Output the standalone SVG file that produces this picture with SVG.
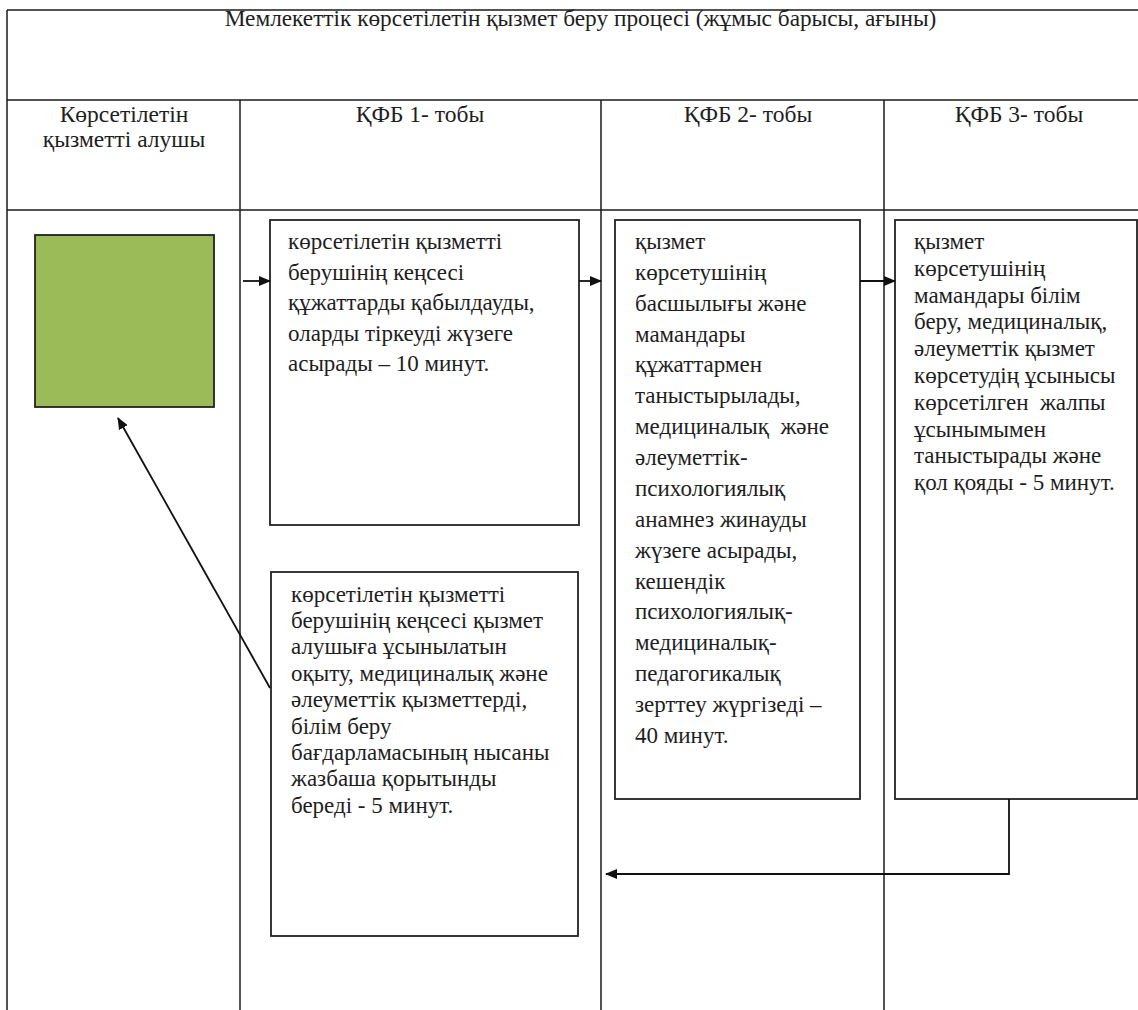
<svg xmlns="http://www.w3.org/2000/svg" width="1138" height="1010" viewBox="0 0 1138 1010">
<style>
.grid{stroke:#1a1a1a;stroke-width:1.5;fill:none}
.box{fill:#fff;stroke:#222;stroke-width:1.8}
.green{fill:#9BBB59;stroke:#222;stroke-width:1.8}
.t{font-family:"Liberation Serif","Times New Roman",serif;fill:#1e1e1e}
.title{font-size:23.3px}
.hdr{font-size:23.5px}
.bt{font-size:23px}
.con{stroke:#111;stroke-width:1.8;fill:none;marker-end:url(#ah)}
</style>
<defs>
<marker id="ah" markerWidth="12" markerHeight="10" refX="11" refY="5" orient="auto" markerUnits="userSpaceOnUse">
<path d="M0,0 L12,5 L0,10 Z" fill="#111"/>
</marker>
</defs>
<rect width="1138" height="1010" fill="#fff"/>
<g id="frame">
<line class="grid" x1="7" y1="10" x2="1138" y2="10"/>
<line class="grid" x1="7" y1="10" x2="7" y2="1010"/>
<line class="grid" x1="7" y1="100" x2="1138" y2="100"/>
<line class="grid" x1="7" y1="210" x2="1138" y2="210"/>
<line class="grid" x1="240" y1="100" x2="240" y2="1010"/>
<line class="grid" x1="601" y1="100" x2="601" y2="1010"/>
<line class="grid" x1="884" y1="100" x2="884" y2="1010"/>
<text class="t title" x="580.5" y="26" text-anchor="middle">Мемлекеттік көрсетілетін қызмет беру процесі (жұмыс барысы, ағыны)</text>
</g>
<g id="headers">
<text class="t hdr" text-anchor="middle"><tspan x="124" y="122">Көрсетілетін</tspan><tspan x="124" y="147">қызметті алушы</tspan></text>
<text class="t hdr" x="420" y="122" text-anchor="middle">ҚФБ 1- тобы</text>
<text class="t hdr" x="748" y="122" text-anchor="middle">ҚФБ 2- тобы</text>
<text class="t hdr" x="1019" y="122" text-anchor="middle">ҚФБ 3- тобы</text>
</g>
<g id="n0">
<rect class="green" x="35" y="235" width="179" height="172"/>
</g>
<g id="n1">
<rect class="box" x="270" y="220" width="309" height="305"/>
<text class="t bt"><tspan x="288" y="249">көрсетілетін қызметті</tspan><tspan x="288" y="279.5">берушінің кеңсесі</tspan><tspan x="288" y="310">құжаттарды қабылдауды,</tspan><tspan x="288" y="340.5">оларды тіркеуді жүзеге</tspan><tspan x="288" y="371">асырады – 10 минут.</tspan></text>
</g>
<g id="n2">
<rect class="box" x="615" y="220" width="245" height="579"/>
<text class="t bt" xml:space="preserve"><tspan x="635" y="249">қызмет</tspan><tspan x="635" y="279.9">көрсетушінің</tspan><tspan x="635" y="310.7">басшылығы және</tspan><tspan x="635" y="341.6">мамандары</tspan><tspan x="635" y="372.4">құжаттармен</tspan><tspan x="635" y="403.3">таныстырылады,</tspan><tspan x="635" y="434.2">медициналық  және</tspan><tspan x="635" y="465">әлеуметтік-</tspan><tspan x="635" y="495.9">психологиялық</tspan><tspan x="635" y="526.7">анамнез жинауды</tspan><tspan x="635" y="557.6">жүзеге асырады,</tspan><tspan x="635" y="588.5">кешендік</tspan><tspan x="635" y="619.3">психологиялық-</tspan><tspan x="635" y="650.2">медициналық-</tspan><tspan x="635" y="681">педагогикалық</tspan><tspan x="635" y="711.9">зерттеу жүргізеді –</tspan><tspan x="635" y="742.7">40 минут.</tspan></text>
</g>
<g id="n3">
<rect class="box" x="895" y="220" width="242" height="579"/>
<text class="t bt" xml:space="preserve"><tspan x="914" y="249">қызмет</tspan><tspan x="914" y="275.8">көрсетушінің</tspan><tspan x="914" y="302.6">мамандары білім</tspan><tspan x="914" y="329.4">беру, медициналық,</tspan><tspan x="914" y="356.2">әлеуметтік қызмет</tspan><tspan x="914" y="383">көрсетудің ұсынысы</tspan><tspan x="914" y="409.8">көрсетілген  жалпы</tspan><tspan x="914" y="436.6">ұсынымымен</tspan><tspan x="914" y="463.4">таныстырады және</tspan><tspan x="914" y="490.2">қол қояды - 5 минут.</tspan></text>
</g>
<g id="n4">
<rect class="box" x="271" y="572" width="307" height="364"/>
<text class="t bt"><tspan x="291" y="601.5">көрсетілетін қызметті</tspan><tspan x="291" y="627.9">берушінің кеңсесі қызмет</tspan><tspan x="291" y="654.3">алушыға ұсынылатын</tspan><tspan x="291" y="680.7">оқыту, медициналық және</tspan><tspan x="291" y="707.1">әлеуметтік қызметтерді,</tspan><tspan x="291" y="733.5">білім беру</tspan><tspan x="291" y="759.9">бағдарламасының нысаны</tspan><tspan x="291" y="786.3">жазбаша қорытынды</tspan><tspan x="291" y="812.7">береді - 5 минут.</tspan></text>
</g>
<g id="connectors">
<line class="con" x1="243" y1="281" x2="270" y2="281"/>
<line class="con" x1="579" y1="281" x2="601" y2="281"/>
<line class="con" x1="860" y1="281" x2="895" y2="281"/>
<polyline class="con" points="1009,799 1009,874 606,874"/>
<line class="con" x1="270" y1="688" x2="118" y2="418"/>
</g>
</svg>
